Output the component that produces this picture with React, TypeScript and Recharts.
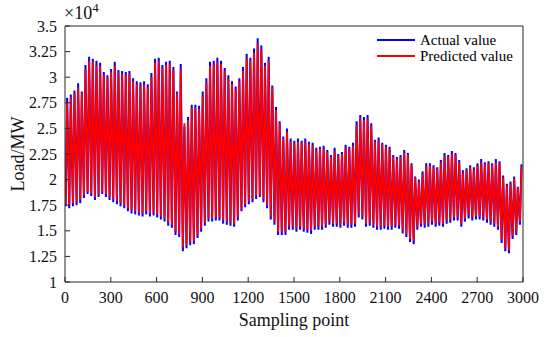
import React from 'react';
import { LineChart, Line, XAxis, YAxis, Legend } from 'recharts';

// Load in units of 10^4 MW, one daily peak and one daily trough per day
const actualPeaks = [
  2.80, 2.83, 2.87, 2.94, 2.86, 3.12, 3.20, 3.18, 3.16, 3.14,
  3.05, 3.02, 3.08, 3.15, 3.07, 3.06, 3.05, 3.06, 2.99, 2.96,
  2.95, 2.96, 2.93, 3.04, 3.18, 3.19, 3.12, 3.15, 3.16, 3.10,
  2.86, 3.13, 2.52, 2.61, 2.73, 2.73, 2.72, 2.86, 2.99, 3.15,
  3.16, 3.19, 3.16, 3.09, 3.02, 2.96, 2.91, 2.99, 3.10, 3.23,
  3.19, 3.28, 3.38, 3.31, 3.14, 3.20, 2.92, 2.71, 2.57, 2.42,
  2.50, 2.40, 2.38, 2.40, 2.38, 2.40, 2.37, 2.36, 2.31, 2.32,
  2.33, 2.29, 2.24, 2.31, 2.25, 2.27, 2.34, 2.32, 2.36, 2.57,
  2.63, 2.61, 2.63, 2.55, 2.39, 2.41, 2.36, 2.34, 2.32, 2.24,
  2.22, 2.24, 2.29, 2.26, 2.16, 2.03, 2.00, 2.08, 2.16, 2.16,
  2.14, 2.12, 2.19, 2.26, 2.24, 2.28, 2.26, 2.19, 2.09, 2.11,
  2.14, 2.12, 2.16, 2.20, 2.17, 2.18, 2.16, 2.20, 2.18, 2.04,
  1.96, 1.98, 2.03, 1.93, 2.15,
];
const actualTroughs = [
  1.74, 1.72, 1.74, 1.75, 1.77, 1.82, 1.86, 1.84, 1.80, 1.83,
  1.86, 1.83, 1.80, 1.78, 1.76, 1.74, 1.72, 1.69, 1.67, 1.66,
  1.65, 1.64, 1.66, 1.64, 1.65, 1.63, 1.61, 1.59, 1.55, 1.53,
  1.46, 1.44, 1.30, 1.33, 1.36, 1.37, 1.43, 1.49, 1.55, 1.59,
  1.59, 1.60, 1.60, 1.57, 1.56, 1.55, 1.54, 1.60, 1.69, 1.73,
  1.76, 1.78, 1.81, 1.83, 1.78, 1.72, 1.61, 1.56, 1.46, 1.46,
  1.46, 1.51, 1.51, 1.49, 1.51, 1.49, 1.48, 1.47, 1.51, 1.51,
  1.51, 1.53, 1.56, 1.54, 1.54, 1.53, 1.55, 1.53, 1.53, 1.54,
  1.63, 1.61, 1.54, 1.55, 1.53, 1.51, 1.51, 1.52, 1.51, 1.51,
  1.53, 1.52, 1.475, 1.44, 1.39, 1.37, 1.51, 1.54, 1.53, 1.54,
  1.56, 1.54, 1.55, 1.54, 1.57, 1.58, 1.60, 1.60, 1.54, 1.59,
  1.62, 1.60, 1.61, 1.61, 1.60, 1.58, 1.56, 1.54, 1.51, 1.38,
  1.30, 1.28, 1.42, 1.46, 1.56,
];
const predictedPeaks = [
  2.76, 2.80, 2.84, 2.90, 2.84, 3.07, 3.16, 3.15, 3.12, 3.11,
  3.02, 2.99, 3.05, 3.11, 3.04, 3.03, 3.02, 3.03, 2.96, 2.93,
  2.92, 2.93, 2.90, 3.00, 3.14, 3.16, 3.09, 3.12, 3.13, 3.07,
  2.84, 3.08, 2.55, 2.58, 2.70, 2.70, 2.69, 2.82, 2.95, 3.11,
  3.13, 3.15, 3.13, 3.06, 2.99, 2.93, 2.88, 2.96, 3.06, 3.19,
  3.16, 3.24, 3.33, 3.27, 3.11, 3.16, 2.90, 2.68, 2.55, 2.40,
  2.47, 2.37, 2.36, 2.37, 2.36, 2.37, 2.35, 2.33, 2.29, 2.30,
  2.30, 2.27, 2.22, 2.28, 2.23, 2.25, 2.31, 2.30, 2.33, 2.53,
  2.60, 2.58, 2.60, 2.52, 2.37, 2.38, 2.34, 2.32, 2.30, 2.22,
  2.20, 2.22, 2.26, 2.24, 2.14, 2.02, 1.98, 2.06, 2.13, 2.14,
  2.12, 2.10, 2.17, 2.23, 2.22, 2.25, 2.24, 2.17, 2.07, 2.09,
  2.12, 2.10, 2.14, 2.17, 2.15, 2.16, 2.14, 2.17, 2.16, 2.02,
  1.94, 1.96, 2.01, 1.92, 2.12,
];
const predictedTroughs = [
  1.77, 1.75, 1.77, 1.78, 1.80, 1.85, 1.88, 1.87, 1.83, 1.85,
  1.88, 1.86, 1.83, 1.81, 1.79, 1.77, 1.75, 1.72, 1.70, 1.69,
  1.68, 1.67, 1.69, 1.67, 1.68, 1.66, 1.64, 1.62, 1.58, 1.56,
  1.49, 1.47, 1.34, 1.36, 1.39, 1.40, 1.46, 1.52, 1.58, 1.62,
  1.62, 1.63, 1.63, 1.60, 1.59, 1.58, 1.57, 1.63, 1.71, 1.76,
  1.79, 1.81, 1.84, 1.85, 1.81, 1.75, 1.64, 1.59, 1.49, 1.49,
  1.49, 1.54, 1.54, 1.52, 1.54, 1.52, 1.51, 1.50, 1.54, 1.54,
  1.54, 1.56, 1.59, 1.57, 1.57, 1.56, 1.58, 1.56, 1.56, 1.57,
  1.66, 1.64, 1.57, 1.58, 1.56, 1.54, 1.54, 1.55, 1.54, 1.54,
  1.56, 1.55, 1.50, 1.47, 1.42, 1.40, 1.54, 1.57, 1.56, 1.57,
  1.59, 1.57, 1.58, 1.57, 1.60, 1.61, 1.63, 1.63, 1.57, 1.62,
  1.65, 1.63, 1.64, 1.64, 1.63, 1.61, 1.59, 1.57, 1.54, 1.41,
  1.33, 1.31, 1.45, 1.49, 1.59,
];

const seriesNames = ['Actual value', 'Predicted value'];
const xTicks = [0, 300, 600, 900, 1200, 1500, 1800, 2100, 2400, 2700, 3000];
const yTicks = [1, 1.25, 1.5, 1.75, 2, 2.25, 2.5, 2.75, 3, 3.25, 3.5];

const SAMPLES_PER_DAY = 24;
const TROUGH_HOUR = 4;
const PEAK_HOUR = 14;

function buildSeries(peaks: number[], troughs: number[]) {
  const pts: { x: number; y: number }[] = [];
  for (let d = 0; d < peaks.length; d++) {
    pts.push({ x: d * SAMPLES_PER_DAY + TROUGH_HOUR, y: troughs[d] });
    pts.push({ x: d * SAMPLES_PER_DAY + PEAK_HOUR, y: peaks[d] });
  }
  return pts;
}

const actualData = buildSeries(actualPeaks, actualTroughs);
const predictedData = buildSeries(predictedPeaks, predictedTroughs);

const FONT = '"Liberation Serif", "Times New Roman", serif';
const AXIS = '#262626';
const COLORS = ['#0000ff', '#ff0000'];

const renderLegend = () => (
  <div style={{ fontFamily: FONT, fontSize: 15, lineHeight: '16px', color: '#000' }}>
    {seriesNames.map((name, i) => (
      <div key={name} style={{ display: 'flex', alignItems: 'center', height: 16, whiteSpace: 'nowrap' }}>
        <svg width={38} height={4} style={{ display: 'block' }}>
          <line x1={0} y1={2} x2={38} y2={2} stroke={COLORS[i]} strokeWidth={2} />
        </svg>
        <span style={{ marginLeft: 5 }}>{name}</span>
      </div>
    ))}
  </div>
);

export default function App() {
  return (
    <div style={{ position: 'absolute', left: 0, top: 0, width: 550, height: 337, background: '#fff' }}>
      <LineChart width={550} height={337} margin={{ top: 25, right: 26, bottom: 0, left: 0 }}>
        <XAxis
          type="number"
          dataKey="x"
          domain={[0, 3000]}
          ticks={xTicks}
          height={55}
          stroke={AXIS}
          tickSize={-5}
          tickMargin={15}
          tick={{ fill: '#111', fontSize: 16, fontFamily: FONT }}
          allowDataOverflow
          label={() => (
            <text x={294} y={326} textAnchor="middle" fontSize={18} fontFamily={FONT} fill="#111">
              Sampling point
            </text>
          )}
        />
        <XAxis
          xAxisId="top"
          orientation="top"
          type="number"
          dataKey="x"
          domain={[0, 3000]}
          ticks={xTicks}
          height={1}
          stroke={AXIS}
          tickSize={-5}
          tick={false}
          allowDataOverflow
        />
        <YAxis
          type="number"
          domain={[1, 3.5]}
          ticks={yTicks}
          width={65}
          stroke={AXIS}
          tickSize={-5}
          tickMargin={13}
          tick={{ fill: '#111', fontSize: 16, fontFamily: FONT }}
          allowDataOverflow
          label={() => (
            <text
              x={18}
              y={154}
              transform="rotate(-90 18 154)"
              textAnchor="middle"
              dominantBaseline="central"
              fontSize={18}
              fontFamily={FONT}
              fill="#111"
            >
              Load/MW
            </text>
          )}
        />
        <YAxis
          yAxisId="right"
          orientation="right"
          type="number"
          domain={[1, 3.5]}
          ticks={yTicks}
          width={1}
          stroke={AXIS}
          tickSize={-5}
          tick={false}
          allowDataOverflow
        />
        <Legend
          layout="vertical"
          align="center"
          verticalAlign="middle"
          content={renderLegend}
          wrapperStyle={{ position: 'absolute', left: 377, top: 32, width: 160 }}
        />
        {/* invisible carrier so the mirrored top/right frame axes are laid out */}
        <Line
          data={actualData}
          dataKey="y"
          xAxisId="top"
          yAxisId="right"
          stroke="none"
          dot={false}
          legendType="none"
          isAnimationActive={false}
        />
        <Line
          data={actualData}
          dataKey="y"
          name={seriesNames[0]}
          stroke={COLORS[0]}
          strokeWidth={2}
          dot={false}
          type="linear"
          isAnimationActive={false}
        />
        <Line
          data={predictedData}
          dataKey="y"
          name={seriesNames[1]}
          stroke={COLORS[1]}
          strokeWidth={1.8}
          dot={false}
          type="linear"
          isAnimationActive={false}
        />
      </LineChart>
      <div
        style={{
          position: 'absolute',
          left: 64,
          top: 4,
          fontFamily: FONT,
          fontSize: 18,
          lineHeight: '18px',
          color: '#111',
          whiteSpace: 'nowrap',
        }}
      >
        ×10<span style={{ fontSize: 13, position: 'relative', top: -7 }}>4</span>
      </div>
    </div>
  );
}
